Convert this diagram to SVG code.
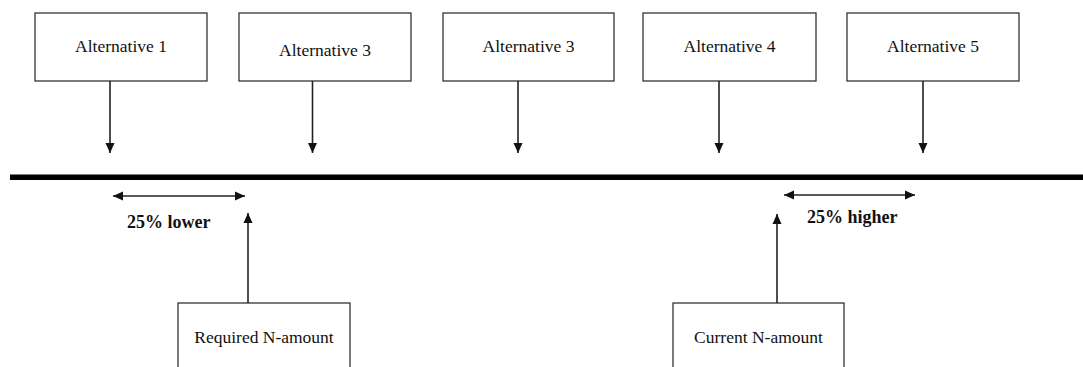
<svg xmlns="http://www.w3.org/2000/svg" width="1083" height="367" viewBox="0 0 1083 367">
<defs>
<style>
.box{fill:#fff;stroke:#333;stroke-width:1.3}
.t{font-family:"Liberation Serif","Times New Roman",serif;font-size:17.5px;fill:#111;text-anchor:middle}
.b{font-family:"Liberation Serif","Times New Roman",serif;font-size:18px;font-weight:bold;fill:#111}
.c{stroke:#222;stroke-width:1.6;fill:none}
</style>
<marker id="ah" viewBox="0 0 10 10" refX="10" refY="5" markerWidth="10" markerHeight="10" markerUnits="userSpaceOnUse" orient="auto-start-reverse">
<path d="M0,0.5 L10,5 L0,9.5 Z" fill="#111"/>
</marker>
</defs>
<rect width="1083" height="367" fill="#fff"/>
<g id="alt1"><rect class="box" x="35" y="13" width="172" height="68"/><text class="t" x="121" y="52">Alternative 1</text></g>
<g id="alt2"><rect class="box" x="239" y="13" width="172" height="68"/><text class="t" x="325" y="56">Alternative 3</text></g>
<g id="alt3"><rect class="box" x="443" y="13" width="171" height="68"/><text class="t" x="528.5" y="52">Alternative 3</text></g>
<g id="alt4"><rect class="box" x="643" y="13" width="173" height="68"/><text class="t" x="729.5" y="52">Alternative 4</text></g>
<g id="alt5"><rect class="box" x="847" y="13" width="172" height="68"/><text class="t" x="933" y="52">Alternative 5</text></g>
<g id="required"><rect class="box" x="178" y="303" width="172" height="80"/><text class="t" x="264" y="343">Required N-amount</text></g>
<g id="current"><rect class="box" x="673" y="303" width="171" height="80"/><text class="t" x="758.5" y="343">Current N-amount</text></g>
<g id="axis"><rect x="10" y="174.5" width="1073" height="5.5" fill="#000"/></g>
<g id="labels">
<text class="b" x="127" y="228">25% lower</text>
<text class="b" x="807" y="223">25% higher</text>
</g>
<g id="connectors">
<line class="c" x1="110" y1="81" x2="110" y2="153" marker-end="url(#ah)"/>
<line class="c" x1="312.5" y1="81" x2="312.5" y2="153" marker-end="url(#ah)"/>
<line class="c" x1="518" y1="81" x2="518" y2="153" marker-end="url(#ah)"/>
<line class="c" x1="719" y1="81" x2="719" y2="153" marker-end="url(#ah)"/>
<line class="c" x1="923" y1="81" x2="923" y2="153" marker-end="url(#ah)"/>
<line class="c" x1="113" y1="196" x2="245" y2="196" marker-start="url(#ah)" marker-end="url(#ah)"/>
<line class="c" x1="784" y1="195" x2="915" y2="195" marker-start="url(#ah)" marker-end="url(#ah)"/>
<line class="c" x1="248" y1="303" x2="248" y2="213" marker-end="url(#ah)"/>
<line class="c" x1="777" y1="303" x2="777" y2="214" marker-end="url(#ah)"/>
</g>
</svg>
